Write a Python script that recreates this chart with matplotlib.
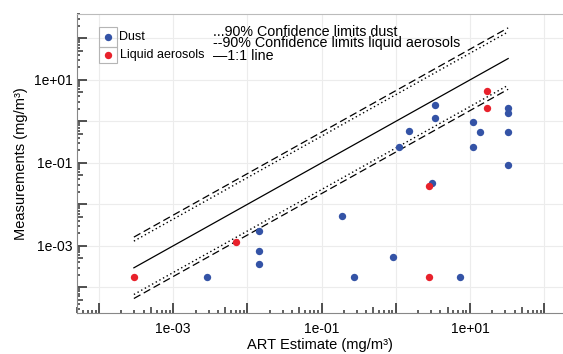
import matplotlib
matplotlib.use('Agg')
import matplotlib.pyplot as plt
import numpy as np
from matplotlib.ticker import LogLocator, FuncFormatter, NullFormatter
from matplotlib.patches import Rectangle

plt.rcParams['font.family'] = ['Liberation Sans', 'DejaVu Sans']

# ART estimate vs measured concentrations (mg/m3)
dust_est = [2.87e-3, 1.44e-2, 1.44e-2, 1.44e-2, 0.19, 0.277, 0.91, 1.1, 1.49,
            3.38, 3.38, 3.08, 7.3, 10.9, 10.9, 13.8, 32.8, 32.8, 32.8, 32.8]
dust_meas = [1.8e-4, 2.3e-3, 7.7e-4, 3.6e-4, 5.2e-3, 1.8e-4, 5.5e-4, 0.247, 0.60,
             2.54, 1.24, 0.032, 1.8e-4, 0.96, 0.24, 0.55, 2.08, 1.63, 0.57, 0.09]
liquid_est = [2.95e-4, 6.97e-3, 2.77, 2.77, 16.8, 16.8]
liquid_meas = [1.8e-4, 1.25e-3, 0.0274, 1.8e-4, 5.5, 2.08]

# 90% confidence factors
dust_factor = 4.4
liquid_factor = 5.5

blue = '#3453a6'
red = '#e8212b'

W, H = 563, 354
fig = plt.figure(figsize=(W / 100, H / 100), dpi=100)
ax = fig.add_axes([76.7 / W, 1 - 313.3 / H, (W - 76.7) / W, (313.3 - 13.5) / H])

all_est = np.array(dust_est + liquid_est)
xl = np.array([all_est.min(), all_est.max()])
ax.plot(xl, xl, '-', color='black', lw=0.9)
ax.plot(xl, xl * dust_factor, ':', color='black', lw=1.0, dashes=(1, 2))
ax.plot(xl, xl / dust_factor, ':', color='black', lw=1.0, dashes=(1, 2))
ax.plot(xl, xl * liquid_factor, '--', color='black', lw=0.9, dashes=(6, 3))
ax.plot(xl, xl / liquid_factor, '--', color='black', lw=0.9, dashes=(6, 3))

ax.plot(dust_est, dust_meas, 'o', color=blue, ms=5.3, mec='none', zorder=3)
ax.plot(liquid_est, liquid_meas, 'o', color=red, ms=5.3, mec='none', zorder=4)

ax.set_xscale('log')
ax.set_yscale('log')
ax.set_xlim(5e-5, 180)
ax.set_ylim(2.36e-5, 400)


def fmt(v, pos):
    e = int(round(np.log10(v)))
    if e % 2 != 0:
        return '%.0e' % v
    return ''


for axis in (ax.xaxis, ax.yaxis):
    axis.set_major_locator(LogLocator(base=10, numticks=20))
    axis.set_major_formatter(FuncFormatter(fmt))
    axis.set_minor_locator(LogLocator(base=10, subs=np.arange(2, 10), numticks=20))
    axis.set_minor_formatter(NullFormatter())

ax.tick_params(which='major', direction='in', length=7, width=1.2, color='#333333',
               labelsize=10, top=False, right=False)
ax.tick_params(axis='x', which='major', pad=6)
ax.tick_params(axis='y', which='major', pad=3)
ax.tick_params(which='minor', direction='in', length=2.5, width=1.1, color='#333333',
               top=False, right=False)

# the 5x minor tick is a bit longer
for axis in (ax.xaxis, ax.yaxis):
    locs = axis.get_minorticklocs()
    for loc, t in zip(locs, axis.get_minor_ticks(len(locs))):
        m = loc / 10 ** np.floor(np.log10(loc) + 1e-9)
        if abs(m - 5) < 0.01:
            t.tick1line.set_markersize(4)

ax.grid(True, which='major', color='#ececec', lw=0.8)
ax.set_axisbelow(True)
for s in ['left', 'bottom']:
    ax.spines[s].set_color('#888888')
ax.spines['top'].set_color('#bbbbbb')
ax.spines['right'].set_visible(False)

ax.set_xlabel('ART Estimate (mg/m³)', fontsize=10.5, labelpad=2)
ax.set_ylabel('Measurements (mg/m³)', fontsize=10.5, labelpad=4)


def fx(px):
    return px / W


def fy(py):
    return 1 - py / H


# legend with boxed marker cells
for top, bot, col, lab in [(27.3, 46.7, blue, 'Dust'), (46.7, 63.3, red, 'Liquid aerosols')]:
    fig.add_artist(Rectangle((fx(99.3), fy(bot)), fx(116.7) - fx(99.3), fy(top) - fy(bot),
                             transform=fig.transFigure, fill=False, ec='#b5b5b5', lw=0.8))
    fig.add_artist(plt.Line2D([fx(108.3)], [fy((top + bot) / 2)], marker='o', ms=5.3,
                              color=col, mec='none', transform=fig.transFigure))
    fig.text(fx(119.5), fy((top + bot) / 2), lab, fontsize=9, va='center', ha='left')

for py, s in [(32.5, '...90% Confidence limits dust'),
              (43.5, '--90% Confidence limits liquid aerosols'),
              (55.5, '\u20141:1 line')]:
    fig.text(fx(213), fy(py), s, fontsize=10.3, va='center', ha='left')

plt.savefig('out.png', dpi=100)
